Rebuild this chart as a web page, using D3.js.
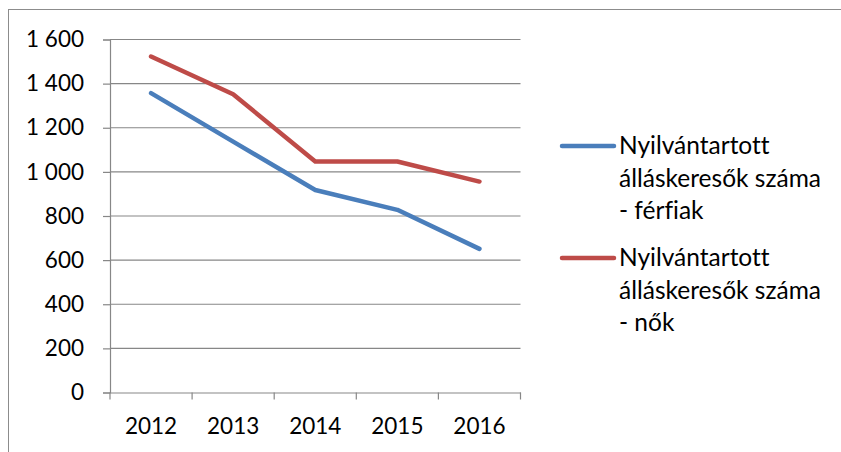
<!DOCTYPE html>
<html>
<head>
<meta charset="utf-8">
<script src="https://cdn.jsdelivr.net/npm/d3@7"></script>
<style>
  body { margin: 0; background: #fff; }
  text { font-family: Lato, "Open Sans", sans-serif; fill: #000; font-variant-ligatures: none; }
</style>
</head>
<body>
<script>
// data
var years = ["2012", "2013", "2014", "2015", "2016"];
var ferfiak = [1357, 1137, 918, 828, 651];
var nok = [1523, 1352, 1047, 1047, 956];
var yTicks = [0, 200, 400, 600, 800, 1000, 1200, 1400, 1600];
var seriesNames = [
  ["Nyilvántartott", "álláskeresők száma", "- férfiak"],
  ["Nyilvántartott", "álláskeresők száma", "- nők"]
];
var colors = ["#4A7EBB", "#BE4B48"];

var w = 841;
var h = 452;

var svg = d3.select("body")
  .append("svg")
  .attr("width", w)
  .attr("height", h);

// outer chart border (cut off on the right and bottom)
svg.append("rect")
  .attr("x", 8.5).attr("y", 9.5)
  .attr("width", 900).attr("height", 500)
  .attr("fill", "none")
  .attr("stroke", "#8c8c8c");

var x = d3.scaleBand()
  .domain(years)
  .range([110, 520.5]);

var y = d3.scaleLinear()
  .domain([0, 1600])
  .range([392.5, 39.5]);

var fmt = d3.formatLocale({ decimal: ",", thousands: " ", grouping: [3], currency: ["", ""] }).format(",d");

// gridlines
svg.append("g")
  .selectAll("line")
  .data(yTicks.slice(1))
  .enter()
  .append("line")
  .attr("x1", 110).attr("x2", 520.5)
  .attr("y1", function(d) { return y(d); })
  .attr("y2", function(d) { return y(d); })
  .attr("stroke", "#878787")
  .attr("stroke-width", 1.2);

// y axis
var yAxis = svg.append("g")
  .attr("transform", "translate(110,0)")
  .call(d3.axisLeft(y).tickValues(yTicks).tickFormat(fmt).tickSize(7).tickPadding(19));

// x axis
var xAxis = svg.append("g")
  .attr("transform", "translate(0," + y(0) + ")")
  .call(d3.axisBottom(x).tickSize(0).tickPadding(26));

// band edge ticks on the x axis
svg.append("g")
  .selectAll("line")
  .data([0].concat(years))
  .enter()
  .append("line")
  .attr("x1", function(d) { return d === 0 ? 110 : x(d) + x.bandwidth(); })
  .attr("x2", function(d) { return d === 0 ? 110 : x(d) + x.bandwidth(); })
  .attr("y1", y(0)).attr("y2", y(0) + 7)
  .attr("stroke", "#878787")
  .attr("stroke-width", 1.2);

[yAxis, xAxis].forEach(function(a) {
  a.select(".domain").attr("stroke", "#878787").attr("stroke-width", 1.2);
  a.selectAll(".tick line").attr("stroke", "#878787").attr("stroke-width", 1.2);
  a.selectAll("text").attr("font-size", 22.5).attr("font-family", "Lato, sans-serif").attr("fill", "#000");
});

var line = d3.line()
  .x(function(d, i) { return x(years[i]) + x.bandwidth() / 2; })
  .y(function(d) { return y(d); });

[ferfiak, nok].forEach(function(s, i) {
  svg.append("path")
    .datum(s)
    .attr("d", line)
    .attr("fill", "none")
    .attr("stroke", colors[i])
    .attr("stroke-width", 4.5)
    .attr("stroke-linecap", "round")
    .attr("stroke-linejoin", "round");
});

// legend
var legend = svg.append("g");
seriesNames.forEach(function(lines, i) {
  var top = 154 + i * 112;
  legend.append("line")
    .attr("x1", 562).attr("x2", 614)
    .attr("y1", top - 8).attr("y2", top - 8)
    .attr("stroke", colors[i])
    .attr("stroke-width", 4.5)
    .attr("stroke-linecap", "round");
  lines.forEach(function(t, j) {
    legend.append("text")
      .attr("x", 619)
      .attr("y", top + j * 32.5)
      .attr("font-size", 24.5)
      .text(t);
  });
});
</script>
</body>
</html>
